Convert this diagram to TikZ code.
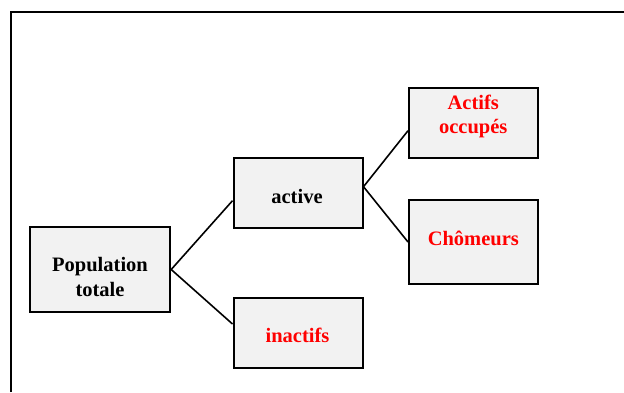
\documentclass[tikz,border=0pt]{standalone}
\usepackage{fontspec}
\setmainfont{Liberation Serif}
\definecolor{boxfill}{RGB}{242,242,242}
\definecolor{labelred}{RGB}{255,0,0}
\begin{document}
\begin{tikzpicture}[x=1pt,y=-1pt,
  box/.style={draw=black, line width=2pt, fill=boxfill, rectangle, inner sep=0pt},
  lbl/.style={font=\fontsize{20.5}{24.5}\selectfont\bfseries, align=center, inner sep=0pt, anchor=base},
  link/.style={line width=1.6pt}]
\useasboundingbox (0,0) rectangle (624,392);
% outer frame (only left and top edges fall inside the page)
\draw[line width=2pt] (10.5,392) -- (10.5,12) -- (624,12);

% boxes
\node[box, minimum width=140pt, minimum height=85pt] (pop) at (100.2,269.5) {};
\node[box, minimum width=129pt, minimum height=70pt] (act) at (298,193) {};
\node[box, minimum width=129pt, minimum height=70pt] (ina) at (298,332.5) {};
\node[box, minimum width=129pt, minimum height=70pt] (occ) at (473.5,123) {};
\node[box, minimum width=129pt, minimum height=84pt] (cho) at (473.5,242) {};

% labels (base anchor = baseline of the last line)
\node[lbl] (popT) at (100,296) {Population\\totale};
\node[lbl] (actT) at (297,203) {active};
\node[lbl, text=labelred] (inaT) at (297.5,342.7) {inactifs};
\node[lbl, text=labelred] (occT) at (473.3,133.5) {Actifs\\occupés};
\node[lbl, text=labelred] (choT) at (473.3,245.7) {Chômeurs};

% connectors
\draw[link] (pop.east) -- ([yshift=-7.7pt]act.west);
\draw[link] (pop.east) -- ([yshift=8.5pt]ina.west);
\draw[link] ([yshift=6.3pt]act.east) -- ([yshift=-7.7pt]occ.west);
\draw[link] ([yshift=6.3pt]act.east) -- (cho.west);
\end{tikzpicture}
\end{document}
